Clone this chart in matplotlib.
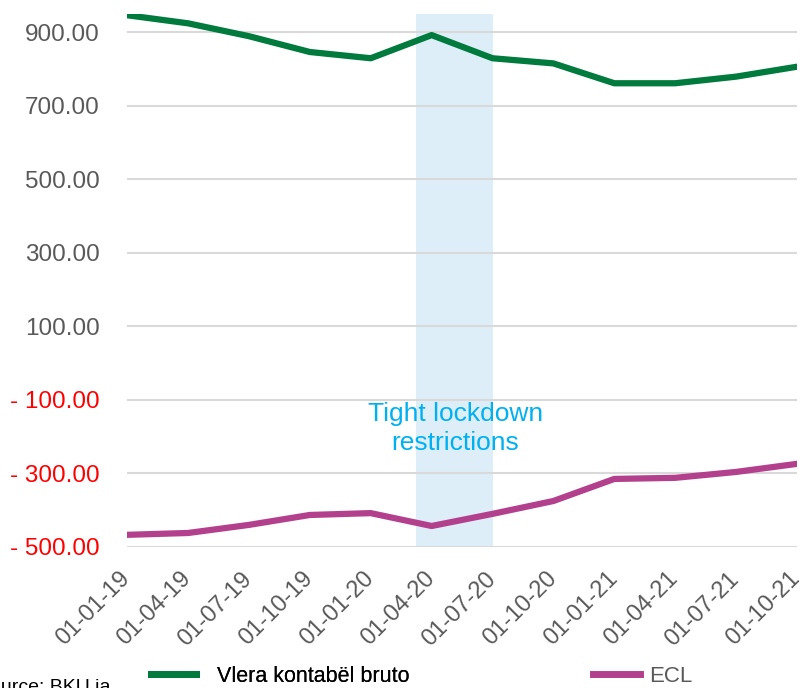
import matplotlib.pyplot as plt
import matplotlib.transforms as mtransforms
import numpy as np
from matplotlib.lines import Line2D
from matplotlib.ticker import FixedLocator, FuncFormatter

plt.rcParams['font.family'] = ['Liberation Sans', 'DejaVu Sans']

# data
dates = ["01-01-19", "01-04-19", "01-07-19", "01-10-19", "01-01-20", "01-04-20",
         "01-07-20", "01-10-20", "01-01-21", "01-04-21", "01-07-21", "01-10-21"]
vlera_bruto = [946, 924, 889, 846, 829, 892, 829, 815, 761, 761, 779, 806]
ecl = [-467, -462, -440, -413, -408, -443, -410, -375, -315, -312, -296, -274]
y_ticks = [900, 700, 500, 300, 100, -100, -300, -500]
lockdown = (4.75, 6.0)

green = '#007A3D'
purple = '#B3408C'
grey_txt = '#595959'

fig = plt.figure(figsize=(8.05, 6.88), dpi=100)
ax = fig.add_axes([0.158, 0.205, 0.832, 0.775])

x = np.arange(len(dates))

# lockdown band
ax.axvspan(lockdown[0], lockdown[1], color='#DDEEF9', zorder=0, lw=0)

ax.plot(x, vlera_bruto, color=green, lw=4.5, solid_capstyle='round', zorder=3)
ax.plot(x, ecl, color=purple, lw=4.5, solid_capstyle='round', zorder=3)

ax.text(5.39, -178, "Tight lockdown\nrestrictions", color='#00B0F0', fontsize=19,
        ha='center', va='center', linespacing=1.3, zorder=4)

ax.set_xlim(0, len(dates) - 1)
ax.set_ylim(-500, 950)

ax.yaxis.set_major_locator(FixedLocator(y_ticks))


def fmt(v, pos):
    if v < 0:
        return "- {:.2f}".format(abs(v))
    return "{:.2f}".format(v)


ax.yaxis.set_major_formatter(FuncFormatter(fmt))
ax.grid(axis='y', color='#D9D9D9', lw=1.5, zorder=1)
ax.set_axisbelow(True)

for s in ax.spines.values():
    s.set_visible(False)

ax.tick_params(axis='y', length=0, pad=20, labelsize=17.5, labelcolor=grey_txt)
ax.tick_params(axis='x', length=0, pad=15, labelsize=17, labelcolor=grey_txt)
for lbl, v in zip(ax.get_yticklabels(), y_ticks):
    if v < 0:
        lbl.set_color('red')

ax.set_xticks(x)
ax.set_xticklabels(dates, rotation=45, ha='right', rotation_mode='anchor')
shift = mtransforms.ScaledTranslation(-8 / 100, 0, fig.dpi_scale_trans)
for lbl in ax.get_xticklabels():
    lbl.set_transform(lbl.get_transform() + shift)

# legend (two separate entries as in the original)
h1 = Line2D([0], [0], color=green, lw=5)
h2 = Line2D([0], [0], color=purple, lw=5)
leg1 = fig.legend([h1], ["Vlera kontabël bruto"], loc='center left',
                  bbox_to_anchor=(0.187, 0.017), frameon=False, fontsize=15.5,
                  handlelength=2.1, handletextpad=1.0, borderaxespad=0,
                  borderpad=0)
leg1.get_texts()[0].set_color('black')
leg2 = fig.legend([h2], ["ECL"], loc='center left',
                  bbox_to_anchor=(0.737, 0.017), frameon=False, fontsize=16,
                  handlelength=2.1, handletextpad=0.4, borderaxespad=0,
                  borderpad=0)
leg2.get_texts()[0].set_color(grey_txt)
fig.add_artist(leg1)

fig.text(-0.028, -0.012, "Source: BKU ja", fontsize=14, color='black',
         ha='left', va='bottom')

fig.savefig("out.png", dpi=100, facecolor='white')
